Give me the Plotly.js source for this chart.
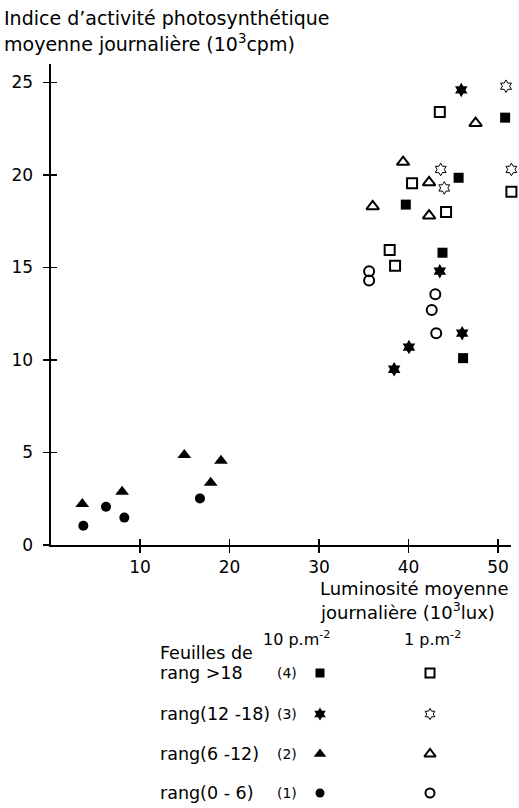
<!DOCTYPE html>
<html><head><meta charset="utf-8">
<script src="https://cdn.plot.ly/plotly-3.0.1.min.js"></script>
<style>html,body{margin:0;padding:0;background:#fff}#chart{width:519px;height:808px}</style>
</head><body><div id="chart"></div>
<script>
// ---- Data ----
// 10 plants per m2 (filled symbols)
const rank4_10_x = [39.7, 43.8, 45.6, 46.1, 50.8];
const rank4_10_y = [18.4, 15.8, 19.85, 10.1, 23.1];
const rank3_10_x = [38.4, 40.05, 43.5, 46.0, 45.9];
const rank3_10_y = [9.5, 10.7, 14.8, 11.45, 24.6];
const rank2_10_x = [3.55, 8.0, 14.95, 17.9, 19.05];
const rank2_10_y = [2.22, 2.88, 4.86, 3.37, 4.56];
const rank1_10_x = [3.67, 6.2, 8.25, 16.7];
const rank1_10_y = [1.04, 2.07, 1.48, 2.52];
// 1 plant per m2 (open symbols)
const rank4_1_x = [43.5, 51.8, 40.4, 51.5, 44.2, 37.9, 38.5];
const rank4_1_y = [23.4, 21.6, 19.55, 19.1, 18.0, 15.95, 15.1];
const rank3_1_x = [50.9, 43.6, 51.5, 44.0];
const rank3_1_y = [24.8, 20.3, 20.3, 19.3];
const rank2_1_x = [47.5, 39.4, 42.3, 36.0, 42.3];
const rank2_1_y = [22.8, 20.7, 19.6, 18.3, 17.8];
const rank1_1_x = [35.6, 35.6, 43.0, 42.6, 43.1];
const rank1_1_y = [14.8, 14.3, 13.55, 12.7, 11.45];

const xTickVals = [10, 20, 30, 40, 50];
const xTickText = ['10', '20', '30', '40', '50'];
const yTickVals = [0, 5, 10, 15, 20, 25];
const yTickText = ['0', '5', '10', '15', '20', '25'];

const rankLabels = ['rang &gt;18', 'rang(12 -18)', 'rang(6 -12)', 'rang(0 - 6)'];
const rankNums = ['(4)', '(3)', '(2)', '(1)'];
const densityLabels = ['10 p.m<sup>-2</sup>', '1 p.m<sup>-2</sup>'];

// ---- Styles ----
const FONT = 'DejaVu Sans';
const K = '#000';
const sym = {
  r4f: {symbol: 'square', size: 10, color: K},
  r3f: {symbol: 'hexagram', size: 11, color: K},
  r2f: {symbol: 'triangle-up', size: 12, color: K},
  r1f: {symbol: 'circle', size: 10, color: K},
  r4o: {symbol: 'square-open', size: 10, color: K, line: {width: 2, color: K}},
  r3o: {symbol: 'hexagram-open', size: 9.5, color: K, line: {width: 1, color: K}},
  r2o: {symbol: 'triangle-up-open', size: 11, color: K, line: {width: 2, color: K}},
  r1o: {symbol: 'circle-open', size: 10, color: K, line: {width: 2, color: K}}
};

function pts(x, y, m, name) {
  return {type: 'scatter', mode: 'markers', x: x, y: y, name: name,
          marker: m, cliponaxis: false, showlegend: false, hoverinfo: 'x+y'};
}

const traces = [
  pts(rank4_10_x, rank4_10_y, sym.r4f, 'rang >18, 10 p/m2'),
  pts(rank3_10_x, rank3_10_y, sym.r3f, 'rang 12-18, 10 p/m2'),
  pts(rank2_10_x, rank2_10_y, sym.r2f, 'rang 6-12, 10 p/m2'),
  pts(rank1_10_x, rank1_10_y, sym.r1f, 'rang 0-6, 10 p/m2'),
  pts(rank4_1_x, rank4_1_y, sym.r4o, 'rang >18, 1 p/m2'),
  pts(rank3_1_x, rank3_1_y, sym.r3o, 'rang 12-18, 1 p/m2'),
  pts(rank2_1_x, rank2_1_y, sym.r2o, 'rang 6-12, 1 p/m2'),
  pts(rank1_1_x, rank1_1_y, sym.r1o, 'rang 0-6, 1 p/m2'),
  // dummy trace to create the overlay axes that carry the inner half of the ticks
  {type: 'scatter', mode: 'markers', x: [null], y: [null], xaxis: 'x3', yaxis: 'y3',
   showlegend: false, hoverinfo: 'skip'}
];

// legend block, drawn in a pixel frame (x2/y2)
const legRowY = [673, 714, 754, 793];
const legColX = [320, 430];
const legFilled = [sym.r4f, sym.r3f, sym.r2f, sym.r1f];
const legOpen = [sym.r4o, sym.r3o, sym.r2o, sym.r1o];
for (let i = 0; i < 4; i++) {
  [legFilled[i], legOpen[i]].forEach((m, j) => {
    const mm = Object.assign({}, m, {size: m.size - 1});
    traces.push({type: 'scatter', mode: 'markers', x: [legColX[j]], y: [legRowY[i]],
      xaxis: 'x2', yaxis: 'y2', marker: mm, showlegend: false, hoverinfo: 'skip', cliponaxis: false});
  });
}

const annotations = [];
function txt(text, x, y, size, xanchor) {
  annotations.push({text: text, x: x, y: y, xref: 'x2', yref: 'y2', showarrow: false,
    xanchor: xanchor || 'left', yanchor: 'middle', align: 'left',
    font: {family: FONT, size: size, color: K}});
}
// y-axis title
txt("Indice d’activité photosynthétique", 2, 18, 19);
txt('moyenne journalière (10<sup>3</sup>cpm)', 2, 43, 19);
// x-axis title
txt('Luminosité moyenne', 318, 588, 18);
txt('journalière (10<sup>3</sup>lux)', 318, 611, 18);
// legend
txt(densityLabels[0], 296, 638, 16, 'center');
txt(densityLabels[1], 432, 638, 16, 'center');
txt('Feuilles de', 158, 653, 17.5);
for (let i = 0; i < 4; i++) {
  txt(rankLabels[i], 158, legRowY[i], 17.5);
  txt(rankNums[i], 287, legRowY[i], 14, 'center');
}

const layout = {
  width: 519, height: 808,
  margin: {l: 0, r: 0, t: 0, b: 0, pad: 0},
  paper_bgcolor: '#fff', plot_bgcolor: 'rgba(0,0,0,0)',
  showlegend: false,
  font: {family: FONT, size: 17, color: K},
  xaxis: {domain: [50.5 / 519, 511.4 / 519], range: [0, 51.5], anchor: 'y',
    showline: true, linecolor: K, linewidth: 2, mirror: false,
    ticks: 'outside', ticklen: 6, tickwidth: 1.5, tickcolor: K,
    tickvals: xTickVals, ticktext: xTickText, ticklabelstandoff: 0,
    showgrid: false, zeroline: false, fixedrange: true,
    tickfont: {family: FONT, size: 17, color: K}},
  yaxis: {domain: [(808 - 545) / 808, (808 - 64) / 808], range: [0, 26], anchor: 'x',
    showline: true, linecolor: K, linewidth: 2,
    ticks: 'outside', ticklen: 6, tickwidth: 1.5, tickcolor: K,
    tickvals: yTickVals, ticktext: yTickText, ticklabelstandoff: 6,
    showgrid: false, zeroline: false, fixedrange: true,
    tickfont: {family: FONT, size: 17, color: K}},
  xaxis3: {overlaying: 'x', anchor: 'y3', range: [0, 51.5],
    ticks: 'inside', ticklen: 6, tickwidth: 1.5, tickcolor: K, tickvals: xTickVals,
    showticklabels: false, showline: false, showgrid: false, zeroline: false, fixedrange: true},
  yaxis3: {overlaying: 'y', anchor: 'x3', range: [0, 26],
    ticks: 'inside', ticklen: 6, tickwidth: 1.5, tickcolor: K, tickvals: [5, 10, 15, 20, 25],
    showticklabels: false, showline: false, showgrid: false, zeroline: false, fixedrange: true},
  xaxis2: {domain: [0, 1], range: [0, 519], anchor: 'y2', visible: false, fixedrange: true},
  yaxis2: {domain: [0, 1], range: [808, 0], anchor: 'x2', visible: false, fixedrange: true},
  annotations: annotations
};

Plotly.newPlot('chart', traces, layout, {staticPlot: true, displayModeBar: false});
</script>
</body></html>
